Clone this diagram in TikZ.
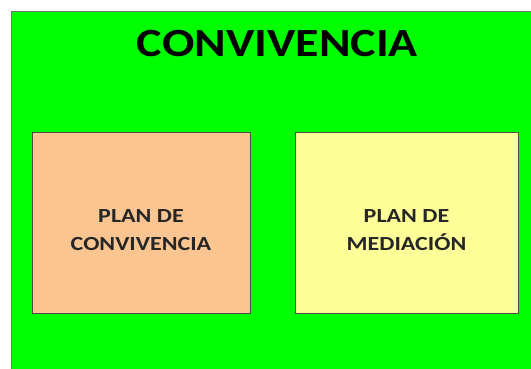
\documentclass[tikz,border=0pt]{standalone}
\usepackage{fontspec}
\setmainfont{Carlito}
\definecolor{fondo}{HTML}{00FF00}
\definecolor{salmon}{HTML}{FAC591}
\definecolor{amarillo}{HTML}{FFFF99}
% texto algo mas ancho, como en el original
\newcommand{\ancho}[1]{\scalebox{1.2}[1]{#1}}
\begin{document}
\begin{tikzpicture}
  [x=1pt,y=-1pt,every node/.style={font=\bfseries}]
  \tikzstyle{plan} = [draw=black!70, line width=.8pt, minimum height=181pt]
  \tikzstyle{texto} = [text=black!85, yshift=-8pt,
    font=\bfseries\fontsize{20}{28}\selectfont]
  \useasboundingbox (0,0) rectangle (531,368);
  \draw[fill=fondo, draw=black!55, line width=.8pt] (11,11) rectangle (545,380);
  \node (titulo) at (277.5,44) {\fontsize{40}{48}\selectfont\ancho{CONVIVENCIA}};
  \node[plan, fill=salmon, minimum width=218pt] (convivencia) at (141,222.5) {};
  \node[plan, fill=amarillo, minimum width=223pt] (mediacion) at (406.5,222.5) {};
  \node[texto] (tconv) at (convivencia) {\ancho{\begin{tabular}{@{}c@{}}PLAN DE\\CONVIVENCIA\end{tabular}}};
  \node[texto] (tmed) at (mediacion) {\ancho{\begin{tabular}{@{}c@{}}PLAN DE\\MEDIACIÓN\end{tabular}}};
\end{tikzpicture}
\end{document}
